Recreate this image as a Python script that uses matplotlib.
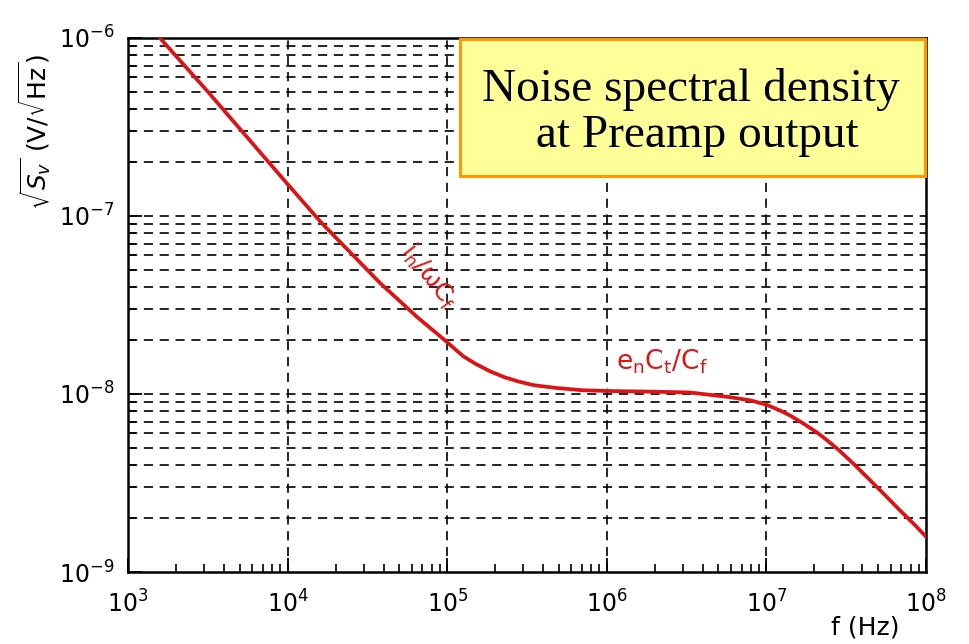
import numpy as np
import matplotlib
matplotlib.use("Agg")
import matplotlib.pyplot as plt
from matplotlib.patches import Rectangle
from matplotlib.ticker import LogLocator, NullFormatter, FixedLocator

# output noise: frequency (Hz) and sqrt(Sv) (V/sqrt(Hz))
freq = [1585, 3160, 1.0e4, 1.64e4, 3.8e4, 6.5e4, 9.7e4, 1.26e5, 1.5e5,
        1.86e5, 2.3e5, 2.8e5, 3.5e5, 4.9e5, 7.0e5, 1.0e6, 2.0e6, 3.3e6,
        5.9e6, 8.0e6, 1.0e7, 1.2e7, 1.4e7, 1.7e7, 2.1e7, 2.4e7, 2.8e7,
        3.5e7, 4.3e7, 5.5e7, 6.9e7, 8.5e7, 1.0e8]
noise = [1.0e-6, 5.0e-7, 1.51e-7, 9.1e-8, 4.2e-8, 2.7e-8, 2.0e-8, 1.63e-8,
         1.48e-8, 1.34e-8, 1.24e-8, 1.175e-8, 1.12e-8, 1.08e-8, 1.05e-8,
         1.04e-8, 1.03e-8, 1.02e-8, 9.6e-9, 9.2e-9, 8.7e-9, 8.13e-9, 7.59e-9,
         6.84e-9, 6.03e-9, 5.5e-9, 4.9e-9, 4.07e-9, 3.39e-9, 2.72e-9, 2.21e-9,
         1.84e-9, 1.58e-9]

x_decades = [1e3, 1e4, 1e5, 1e6, 1e7, 1e8]
x_labels = [r"$10^{3}$", r"$10^{4}$", r"$10^{5}$", r"$10^{6}$", r"$10^{7}$", r"$10^{8}$"]
y_decades = [1e-9, 1e-8, 1e-7, 1e-6]
y_labels = [r"$10^{-9}$", r"$10^{-8}$", r"$10^{-7}$", r"$10^{-6}$"]

title_text = "Noise spectral density\n at Preamp output"
low_label = r"$\mathregular{i_n/\omega C_f}$"
flat_label = r"$\mathregular{e_nC_t/C_f}$"

plt.rcParams["mathtext.fontset"] = "dejavusans"
red = "#dd1414"

fig = plt.figure(figsize=(9.69, 6.44), dpi=100)
ax = fig.add_axes([0.1321, 0.1118, 0.8235, 0.8292])
ax.set_xscale("log")
ax.set_yscale("log")
ax.set_xlim(1e3, 1e8)
ax.set_ylim(1e-9, 1e-6)

dash = (0, (5.5, 4.0))
# horizontal grid at every y tick (major and minor), vertical only at decades
for yv in LogLocator(base=10, subs=np.arange(1, 10)).tick_values(1e-9, 1e-6):
    if 1e-9 < yv < 1e-6 * 0.999:
        ax.axhline(yv, color="black", lw=1.2, ls=dash, zorder=1)
for xv in x_decades[1:-1]:
    ax.axvline(xv, color="black", lw=1.2, ls=dash, zorder=1)

ax.plot(freq, noise, color=red, lw=2.7, zorder=3, solid_joinstyle="round")

ax.xaxis.set_major_locator(FixedLocator(x_decades))
ax.set_xticklabels(x_labels, fontsize=17)
ax.xaxis.set_minor_locator(LogLocator(base=10, subs=np.arange(2, 10)))
ax.xaxis.set_minor_formatter(NullFormatter())
ax.yaxis.set_major_locator(FixedLocator(y_decades))
ax.set_yticklabels(y_labels, fontsize=17)
ax.yaxis.set_minor_locator(LogLocator(base=10, subs=np.arange(2, 10)))
ax.yaxis.set_minor_formatter(NullFormatter())

ax.tick_params(which="major", direction="in", length=10, width=1.3,
               top=False, right=False, pad=10)
ax.tick_params(axis="x", which="major", pad=13)
ax.tick_params(which="minor", direction="in", length=6, width=1.2,
               top=False, right=False)
for side in ["left", "bottom", "top", "right"]:
    ax.spines[side].set_linewidth(1.8)

fig.text(0.893, 0.025, "f (Hz)", fontsize=18, ha="center", va="center")
fig.text(0.037, 0.795, r"$\sqrt{S_v}$ (V/$\sqrt{\mathrm{Hz}}$)", fontsize=18,
         rotation=90, ha="center", va="center")

ax.text(7.6e4, 4.6e-8, low_label, color=red, fontsize=18,
        rotation=-52, ha="center", va="center", zorder=4)
ax.text(2.22e6, 1.51e-8, flat_label, color=red, fontsize=19,
        ha="center", va="center", zorder=4)

# title panel in the upper right corner
ax.add_patch(Rectangle((0.416, 0.7416), 0.583, 0.2564, transform=ax.transAxes,
                       facecolor="#ffff99", edgecolor="#ff9900", lw=2.2,
                       zorder=5, clip_on=False))
ax.text(0.7055, 0.861, title_text, transform=ax.transAxes, fontsize=34,
        family="Liberation Serif", ha="center", va="center", zorder=6,
        linespacing=1.1)

fig.savefig("out.png", dpi=100)
